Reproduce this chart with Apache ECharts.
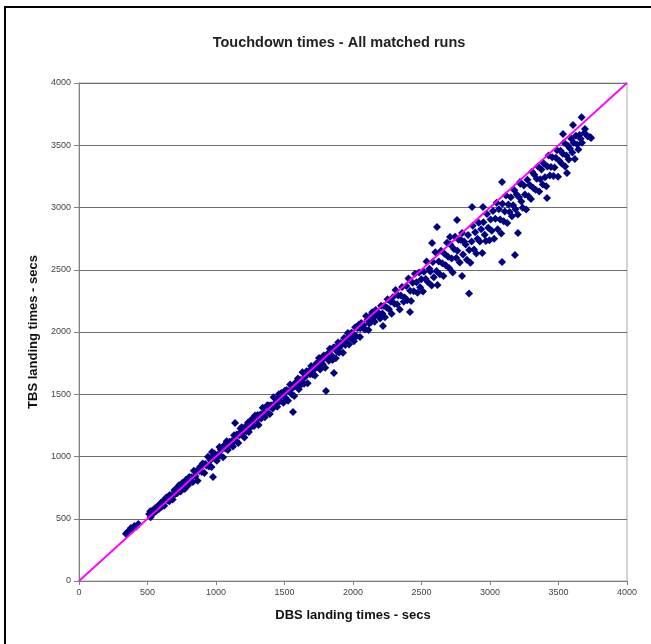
<!DOCTYPE html>
<html>
<head>
<meta charset="utf-8">
<script src="https://cdn.jsdelivr.net/npm/echarts@6/dist/echarts.min.js"></script>
<style>html,body{margin:0;padding:0;background:#fff;}#chart{width:651px;height:644px;}</style>
</head>
<body>
<div id="chart"></div>
<script>
var titleText = 'Touchdown times - All matched runs';
var xName = 'DBS landing times - secs';
var yName = 'TBS landing times - secs';
var xTicks = [0, 500, 1000, 1500, 2000, 2500, 3000, 3500, 4000];
var yTicks = [0, 500, 1000, 1500, 2000, 2500, 3000, 3500, 4000];

// [DBS, TBS] pairs read (estimated) from the picture
var runsLow = [[342,380],[356,395],[368,402],[379,425],[391,418],[404,441],[417,436],[433,458],[512,538],[523,512],[531,561],[546,547],[552,583],[563,562],[571,598],[584,579],[597,626],[603,596],[611,640],[622,605],[637,670],[644,648],[659,641],[663,690],[676,682],[684,655],[697,731],[703,698],[716,705],[722,756],[734,741],[741,719],[753,787],[761,766],[772,738],[779,812],[788,781],[796,770],[805,836],[814,803],[590,612],[655,680],[730,770],[770,790],[520,560],[700,720]];
var runsLowMid = [[822,834],[831,796],[838,886],[850,842],[857,884],[866,805],[879,884],[884,917],[897,875],[903,944],[915,868],[922,940],[930,927],[941,997],[948,919],[960,969],[967,915],[975,999],[988,1025],[994,980],[1006,966],[1013,1016],[1025,1076],[1031,1006],[1040,1055],[1052,994],[1059,1089],[1071,1065],[1078,1122],[1086,1053],[1098,1119],[1105,1094],[1117,1125],[1124,1080],[1132,1171],[1145,1126],[1151,1177],[1163,1108],[1170,1171],[1179,1225]];
var runsLowMid2 = [[1188,1234],[1194,1195],[1207,1152],[1213,1239],[1222,1203],[1234,1273],[1240,1196],[1251,1259],[1259,1248],[1266,1287],[1278,1245],[1285,1329],[1296,1290],[1304,1334],[1311,1253],[1323,1338],[1330,1305],[1341,1392],[1348,1351],[1356,1316],[1369,1355],[1375,1412],[1386,1410],[1393,1341],[1402,1411],[1414,1385],[1420,1476],[1432,1429],[1439,1457],[1447,1400],[1459,1500],[1466,1444],[1477,1510],[1484,1489],[1492,1431],[1500,1527]];
var runsMid = [[1507,1472],[1514,1534],[1526,1447],[1533,1526],[1541,1578],[1553,1501],[1560,1564],[1571,1485],[1579,1592],[1586,1566],[1598,1627],[1605,1540],[1616,1615],[1624,1581],[1631,1676],[1643,1585],[1650,1638],[1661,1684],[1669,1588],[1677,1684],[1688,1661],[1695,1727],[1707,1658],[1714,1709],[1722,1650],[1734,1750],[1741,1724],[1752,1792],[1760,1699],[1768,1770],[1779,1741],[1786,1812],[1797,1713],[1805,1796],[1813,1824],[1824,1770],[1831,1866],[1843,1813],[1850,1775],[1858,1876]];
var runsMid2 = [[1866,1874],[1874,1789],[1883,1843],[1891,1916],[1899,1835],[1910,1911],[1918,1899],[1927,1833],[1935,1951],[1944,1896],[1955,1947],[1962,1992],[1971,1900],[1980,1953],[1988,1994],[1999,1984],[2007,1925],[2016,2038],[2024,1965],[2033,2030],[2044,2061],[2051,1960],[2060,2073],[2069,2034],[2077,2055],[2088,2020],[2096,2129],[2105,2094],[2113,2017],[2122,2125],[2133,2080],[2140,2159],[2149,2119],[2158,2082],[2166,2176],[2177,2160]];
var runsCore = [[1010,1002],[1063,1071],[1118,1109],[1172,1186],[1228,1220],[1283,1297],[1337,1330],[1392,1404],[1447,1441],[1503,1512],[1556,1547],[1612,1598],[1667,1671],[1723,1706],[1777,1780],[1833,1812],[1888,1886],[1942,1921],[1997,1990],[2053,2030],[2108,2100],[2163,2135],[1035,1058],[1250,1230],[1470,1478],[1690,1695],[1900,1872],[2120,2070]];
var runsMidHigh = [[2186,2150],[2198,2108],[2205,2211],[2214,2148],[2226,2208],[2233,2119],[2245,2197],[2252,2264],[2263,2182],[2275,2242],[2282,2146],[2291,2279],[2303,2227],[2310,2338],[2322,2222],[2330,2294],[2341,2181],[2349,2293],[2358,2362],[2370,2242],[2377,2277],[2389,2369],[2396,2256],[2405,2430],[2417,2332],[2424,2249],[2436,2396],[2443,2328],[2452,2467],[2464,2399],[2471,2316],[2483,2478],[2490,2360],[2499,2424],[2511,2326],[2518,2483],[2530,2425],[2537,2567],[2546,2401],[2558,2508]];
var runsMidHigh2 = [[2565,2485],[2574,2374],[2583,2563],[2590,2440],[2601,2641],[2609,2489],[2617,2377],[2626,2566],[2634,2464],[2643,2653],[2652,2552],[2660,2450],[2668,2628],[2677,2537],[2686,2716],[2694,2604],[2703,2513],[2711,2701],[2720,2590],[2728,2478],[2737,2667],[2745,2765],[2754,2594],[2762,2652],[2771,2741],[2779,2559],[2788,2738],[2796,2796],[2803,2623],[2811,2726]];
var runsHigh = [[2822,2702],[2831,2581],[2840,2780],[2848,2658],[2857,2557],[2866,2726],[2874,2854],[2883,2663],[2892,2802],[2900,2630],[2909,2749],[2918,2878],[2926,2726],[2935,2825],[2944,2634],[2952,2882],[2961,2781],[2970,2730],[2978,2948],[2987,2837],[2996,2736],[3004,2904],[3013,2813],[3022,2972],[3030,2750],[3039,2909],[3048,3038],[3056,2826],[3065,2985],[3074,2904],[3082,2792],[3091,3031],[3100,2890],[3108,2968],[3117,3097],[3126,2876],[3134,3024],[3143,2963],[3152,3082],[3160,2930],[3169,3019],[3178,3138]];
var runsHigh2 = [[3186,2986],[3195,3105],[3203,2943],[3212,3082],[3221,3191],[3229,3049],[3238,2998],[3247,3177],[3255,3105],[3264,2984],[3273,3223],[3281,3091],[3290,3180],[3299,3069],[3307,3287],[3316,3156]];
var runsTop = [[3324,3264],[3333,3143],[3341,3231],[3350,3330],[3359,3129],[3367,3227],[3376,3306],[3385,3185],[3393,3353],[3402,3242],[3411,3171],[3419,3329],[3428,3418],[3437,3257],[3445,3325],[3454,3404],[3463,3253],[3471,3321],[3480,3400],[3489,3459],[3497,3247],[3506,3376],[3515,3455],[3523,3353],[3532,3432],[3541,3521],[3549,3329],[3558,3418],[3567,3497],[3575,3385],[3584,3474],[3593,3553],[3601,3441],[3610,3520],[3619,3389],[3627,3577],[3636,3506],[3645,3465],[3653,3583],[3662,3552],[3671,3521],[3690,3600],[3712,3572],[3738,3558]];
var outliers = [[3669,3724],[3606,3663],[3693,3630],[3533,3590],[3730,3566],[3562,3277],[3416,3076],[3219,3205],[3088,3205],[2869,3004],[2949,3004],[2759,2900],[2613,2843],[2708,2763],[2577,2715],[3204,2795],[3182,2618],[3088,2562],[2796,2450],[2847,2310],[2416,2160],[1803,1526],[1562,1357],[1139,1269],[1861,1671],[2219,2048],[978,835],[1263,1301],[971,1036]];
var refLine = [[0,0],[4000,4000]];

var points = [].concat(runsLow, runsLowMid, runsLowMid2, runsMid, runsMid2, runsCore, runsMidHigh, runsMidHigh2, runsHigh, runsHigh2, runsTop, outliers);

var chart = echarts.init(document.getElementById('chart'), null, {renderer: 'canvas'});
var font = 'Liberation Sans, Arial, sans-serif';
chart.setOption({
  animation: false,
  backgroundColor: '#ffffff',
  title: {
    text: titleText, left: 334, top: 30, textAlign: 'center',
    textStyle: {fontFamily: font, fontSize: 14.5, fontWeight: 'bold', color: '#222'}
  },
  graphic: [{
    type: 'rect', silent: true,
    shape: {x: 5, y: 7, width: 800, height: 800},
    style: {fill: 'none', stroke: '#000', lineWidth: 2}
  }],
  grid: {left: 79, right: 24, top: 83, bottom: 63, show: true, borderColor: '#a8a8a8', borderWidth: 1, containLabel: false},
  xAxis: {
    type: 'value', min: 0, max: 4000, interval: 500,
    name: xName, nameLocation: 'middle', nameGap: 28,
    nameTextStyle: {fontFamily: font, fontSize: 13, fontWeight: 'bold', color: '#111'},
    axisLine: {show: true, lineStyle: {color: '#808080', width: 1}},
    axisTick: {show: true, length: 4, lineStyle: {color: '#808080'}},
    axisLabel: {fontFamily: font, fontSize: 9, color: '#444', margin: 7,
      formatter: function(v){ return xTicks.indexOf(v) >= 0 ? String(v) : ''; }},
    splitLine: {show: false}
  },
  yAxis: {
    type: 'value', min: 0, max: 4000, interval: 500,
    name: yName, nameLocation: 'middle', nameGap: 38,
    nameTextStyle: {fontFamily: font, fontSize: 13, fontWeight: 'bold', color: '#111'},
    axisLine: {show: true, lineStyle: {color: '#808080', width: 1}},
    axisTick: {show: true, length: 5, lineStyle: {color: '#808080'}},
    axisLabel: {fontFamily: font, fontSize: 9, color: '#444', margin: 8,
      formatter: function(v){ return yTicks.indexOf(v) >= 0 ? String(v) : ''; }},
    splitLine: {show: true, lineStyle: {color: '#6e6e6e', width: 1}}
  },
  series: [{
    type: 'scatter', data: points, symbol: 'diamond', symbolSize: [8, 8],
    itemStyle: {color: '#000080', opacity: 1}, z: 2
  }, {
    type: 'line', data: refLine, symbol: 'none', z: 3,
    lineStyle: {color: '#ff00ff', width: 1.8}
  }]
});
</script>
</body>
</html>
